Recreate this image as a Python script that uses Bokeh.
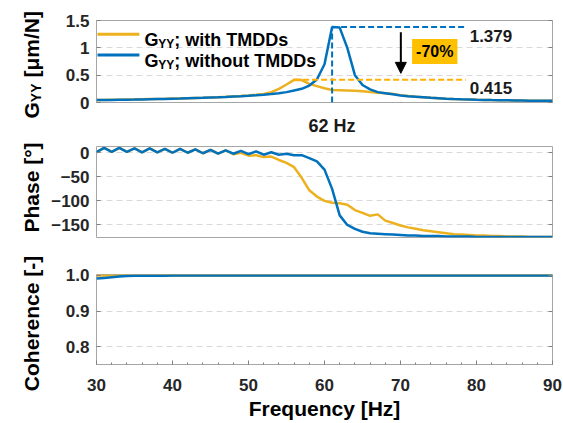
import math
from bokeh.plotting import figure
from bokeh.layouts import column, row
from bokeh.models import (Label, Arrow, NormalHead, Range1d, FixedTicker, NumeralTickFormatter,
                          SingleIntervalTicker, LinearAxis)
from bokeh.core.properties import value
from bokeh.embed import file_html
from bokeh.resources import INLINE

# ---------------- data ----------------
freq = list(range(30, 91))

amp_without = [0.045, 0.046, 0.048, 0.050, 0.052, 0.054, 0.057, 0.060, 0.063, 0.066,
               0.070, 0.073, 0.077, 0.081, 0.085, 0.090, 0.095, 0.101, 0.108, 0.115,
               0.123, 0.132, 0.142, 0.155, 0.170, 0.190, 0.220, 0.250, 0.310, 0.420,
               0.700, 1.379, 1.370, 1.000, 0.500, 0.320, 0.240, 0.190, 0.170, 0.150,
               0.130, 0.115, 0.105, 0.095, 0.085, 0.078, 0.070, 0.064, 0.059, 0.055,
               0.050, 0.047, 0.044, 0.042, 0.040, 0.038, 0.036, 0.034, 0.033, 0.032,
               0.031]
amp_with = [0.047, 0.048, 0.050, 0.052, 0.054, 0.056, 0.059, 0.062, 0.065, 0.068,
            0.072, 0.075, 0.079, 0.083, 0.087, 0.092, 0.098, 0.104, 0.111, 0.118,
            0.128, 0.140, 0.155, 0.190, 0.250, 0.330, 0.415, 0.410, 0.340, 0.300,
            0.260, 0.230, 0.225, 0.220, 0.215, 0.205, 0.190, 0.180, 0.170, 0.155,
            0.135, 0.120, 0.105, 0.095, 0.085, 0.078, 0.070, 0.064, 0.059, 0.055,
            0.050, 0.047, 0.044, 0.042, 0.040, 0.038, 0.036, 0.034, 0.033, 0.032,
            0.031]

phase_without = [1, 10, 2, 10, 2, 9, 1, 9, 1, 8,
                 0, 8, 0, 7, -1, 6, -2, 5, -2, 4,
                 -3, 3, -4, 1, -4, -2, -5, -5, -11, -18,
                 -35, -75, -130, -150, -158, -164, -167, -168, -169, -170,
                 -171, -172, -172, -173, -173, -173, -174, -174, -174, -174,
                 -175, -175, -175, -175, -175, -175, -175, -175, -175, -175,
                 -175]
phase_with = [1, 10, 2, 10, 2, 9, 1, 9, 1, 8,
              0, 8, 0, 7, -1, 6, -2, 5, -3, 0,
              -6, -5, -9, -8, -15, -21, -30, -52, -78, -91,
              -100, -104, -105, -108, -119, -125, -131, -128, -141, -146,
              -151, -155, -158, -161, -163, -165, -167, -169, -170, -171,
              -172, -172, -173, -173, -174, -174, -174, -175, -175, -175,
              -175]

coh_without = [0.991, 0.993, 0.995, 0.997, 0.998, 0.999, 0.999, 0.999, 0.999, 0.999] + [1.0] * 51
coh_with = [1.0] * 61

amp_yticks = [0, 0.5, 1, 1.5]
phase_yticks = [-150, -100, -50, 0]
coh_yticks = [0.8, 0.9, 1.0]
peak_label = "62 Hz"

# ---------------- style ----------------
FONT = "Liberation Sans"
ORANGE = "#EDB120"
BLUE = "#0072BD"
DASH_ORANGE = "#FFB000"
DASH_BLUE = "#0070C0"
TICK_COLOR = "#262626"
FRAME = "#a6a6a6"

LEFT_W = 48          # width of the strip that holds the rotated axis titles
W = 563 - LEFT_W

# page pixel -> data helpers (annotation placement only)
def fx(px):
    return 30 + (px - 95) * 60.0 / 457.0

def f1y(py):
    return (110 - py) / 60.0


def make_fig(height, yr, top, bottom, xaxis, ticks):
    p = figure(width=W, height=height, x_range=Range1d(30, 90), y_range=Range1d(*yr),
               output_backend="svg", toolbar_location=None,
               min_border_left=95 - LEFT_W, min_border_right=11, min_border_top=top, min_border_bottom=bottom,
               x_axis_location="below" if xaxis else None)
    p.outline_line_color = FRAME
    p.outline_line_width = 1
    p.background_fill_color = "white"
    p.border_fill_color = "white"
    p.xgrid.visible = False
    p.ygrid.grid_line_color = "#d9d9d9"
    p.ygrid.grid_line_dash = "6 4"
    p.ygrid.grid_line_width = 1
    ax = p.yaxis[0]
    ax.ticker = FixedTicker(ticks=ticks)
    ax.axis_line_color = None
    ax.major_tick_in = 4
    ax.major_tick_out = 0
    ax.major_tick_line_color = "#808080"
    ax.minor_tick_line_color = None
    ax.major_label_text_font = FONT
    ax.major_label_text_font_style = "bold"
    ax.major_label_text_font_size = "17px"
    ax.major_label_text_color = TICK_COLOR
    ax.major_label_standoff = 7
    # mirrored inner ticks on the right edge
    rax = LinearAxis(ticker=FixedTicker(ticks=ticks), axis_line_color=None, major_tick_in=4, major_tick_out=0,
                     major_tick_line_color="#808080", minor_tick_line_color=None,
                     major_label_overrides={t: "" for t in ticks}, major_label_standoff=0,
                     major_label_text_font_size="1px")
    p.add_layout(rax, "right")
    return p


# ---------- figure 1: amplitude ----------
p1 = make_fig(138, (0, 1.5), 20, 28, True, amp_yticks)
p1.yaxis[0].formatter = NumeralTickFormatter(format="0.[0]")
p1.line(freq, amp_with, color=ORANGE, line_width=2.5)
p1.line(freq, amp_without, color=BLUE, line_width=2.5)

i_b = max(range(len(amp_without)), key=lambda i: amp_without[i])
i_o = max(range(len(amp_with)), key=lambda i: amp_with[i])
f_pk, a_pk = freq[i_b], amp_without[i_b]
f_po, a_po = freq[i_o], amp_with[i_o]

# x axis of fig1 only carries the "62 Hz" mark
xa1 = p1.xaxis[0]
xa1.ticker = FixedTicker(ticks=[f_pk])
xa1.major_label_overrides = {f_pk: peak_label}
xa1.axis_line_color = None
xa1.major_tick_line_color = None
xa1.minor_tick_line_color = None
xa1.major_label_text_font = FONT
xa1.major_label_text_font_style = "bold"
xa1.major_label_text_font_size = "18px"
xa1.major_label_text_color = "#1a1a1a"
xa1.major_label_standoff = 7

x_end = fx(465)
p1.segment(x0=[f_pk], y0=[0], x1=[f_pk], y1=[a_pk], line_color=DASH_BLUE, line_width=2, line_dash="6 3")
p1.segment(x0=[f_pk], y0=[a_pk], x1=[x_end], y1=[a_pk], line_color=DASH_BLUE, line_width=2, line_dash="6 3")
p1.segment(x0=[f_po], y0=[a_po], x1=[x_end], y1=[a_po], line_color=DASH_ORANGE, line_width=2, line_dash="6 3")

p1.add_layout(Label(x=fx(469), y=f1y(36.7), text=f"{a_pk:.3f}", text_font=FONT, text_font_style="bold",
                    text_font_size="17px", text_color="#1a1a1a", text_baseline="alphabetic"))
p1.add_layout(Label(x=fx(469), y=f1y(94), text=f"{a_po:.3f}", text_font=FONT, text_font_style="bold",
                    text_font_size="17px", text_color="#1a1a1a", text_baseline="alphabetic"))
p1.add_layout(Arrow(end=NormalHead(size=11, fill_color="black", line_color="black"),
                    x_start=fx(400), y_start=f1y(33), x_end=fx(400), y_end=f1y(78),
                    line_color="black", line_width=2))
red = round((1 - a_po / a_pk) * 100)
p1.add_layout(Label(x=fx(434), y=f1y(54), text=f"-{red}%", text_font=FONT, text_font_style="bold",
                    text_font_size="16px", text_color="black", text_align="center", text_baseline="middle",
                    background_fill_color="#FFC000", padding=4))

# legend
for col, ly, txt in [(ORANGE, 35, "; with TMDDs"), (BLUE, 58, "; without TMDDs")]:
    p1.segment(x0=[fx(96)], y0=[f1y(ly)], x1=[fx(138)], y1=[f1y(ly)], line_color=col, line_width=3)
    p1.add_layout(Label(x=fx(143), y=f1y(ly + 6.4), text="G", text_font=FONT, text_font_style="bold",
                        text_font_size="18px", text_color="black", text_baseline="alphabetic"))
    p1.add_layout(Label(x=fx(157), y=f1y(ly + 10.4), text="YY", text_font=FONT, text_font_style="bold",
                        text_font_size="12px", text_color="black", text_baseline="alphabetic"))
    p1.add_layout(Label(x=fx(173), y=f1y(ly + 6.4), text=txt, text_font=FONT, text_font_style="bold",
                        text_font_size="18px", text_color="black", text_baseline="alphabetic"))

# ---------- figure 2: phase ----------
p2 = make_fig(126, (-176, 13), 8, 27, False, phase_yticks)
p2.line(freq, phase_with, color=ORANGE, line_width=2.5)
p2.line(freq, phase_without, color=BLUE, line_width=2.5)

# ---------- figure 3: coherence ----------
p3 = make_fig(158, (0.75, 1.0025), 10, 56, True, coh_yticks)
p3.yaxis[0].formatter = NumeralTickFormatter(format="0.0")
xa = p3.xaxis[0]
xa.ticker = SingleIntervalTicker(interval=10, num_minor_ticks=5)
xa.axis_line_color = None
xa.major_tick_in = 4
xa.major_tick_out = 0
xa.minor_tick_in = 2
xa.minor_tick_out = 0
xa.major_tick_line_color = "#808080"
xa.minor_tick_line_color = "#808080"
xa.major_label_text_font = FONT
xa.major_label_text_font_style = "bold"
xa.major_label_text_font_size = "17px"
xa.major_label_text_color = TICK_COLOR
xa.major_label_standoff = 14
xa.axis_label = "Frequency [Hz]"
xa.axis_label_text_font = FONT
xa.axis_label_text_font_style = "bold"
xa.axis_label_text_font_size = "21px"
xa.axis_label_text_color = "black"
xa.axis_label_standoff = 3
p3.line(freq, coh_with, color=ORANGE, line_width=2.5)
p3.line(freq, coh_without, color=BLUE, line_width=2.5)

# ---------- left strip with rotated axis titles (pixel coordinates) ----------
H = 138 + 126 + 158
lab = figure(width=LEFT_W, height=H, x_range=Range1d(0, LEFT_W), y_range=Range1d(H, 0),
             output_backend="svg", toolbar_location=None, x_axis_location=None, y_axis_location=None,
             min_border=0)
lab.outline_line_color = None
lab.grid.visible = False
lab.background_fill_color = "white"
lab.border_fill_color = "white"
up = math.pi / 2
lab.text(x=[31], y=[118], text=["G"], angle=up, text_font=value(FONT), text_font_style=value("bold"),
         text_font_size=value("21px"), text_color="black", text_align=value("left"), text_baseline=value("alphabetic"))
lab.text(x=[35], y=[101.7], text=["YY"], angle=up, text_font=value(FONT), text_font_style=value("bold"),
         text_font_size=value("14px"), text_color="black", text_align=value("left"), text_baseline=value("alphabetic"))
lab.text(x=[31], y=[77], text=["[μm/N]"], angle=up, text_font=value(FONT), text_font_style=value("bold"),
         text_font_size=value("21px"), text_color="black", text_align=value("left"), text_baseline=value("alphabetic"))
lab.text(x=[31, 31], y=[187, 323], text=["Phase [°]", "Coherence [-]"], angle=up, text_font=value(FONT),
         text_font_style=value("bold"), text_font_size=value("21px"), text_color="black",
         text_align=value("center"), text_baseline=value("alphabetic"))

layout = row(lab, column(p1, p2, p3, spacing=0), spacing=0)
open("out.html", "w").write(file_html(layout, INLINE))
